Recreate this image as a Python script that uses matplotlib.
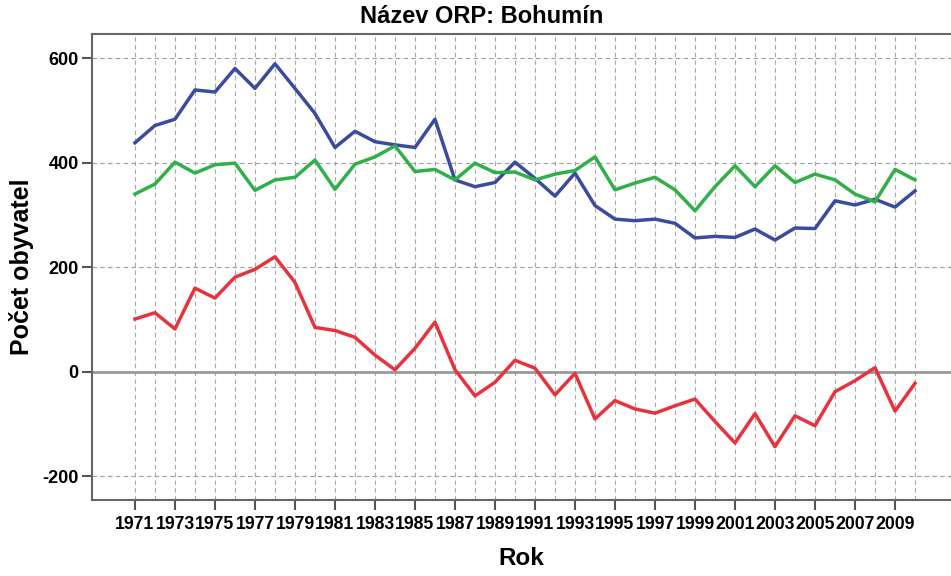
import numpy as np
import matplotlib
matplotlib.use('Agg')
import matplotlib.pyplot as plt

plt.rcParams['font.family'] = ['Liberation Sans', 'DejaVu Sans']
plt.rcParams['font.weight'] = 'bold'

# data
years = list(range(1971, 2011))

blue = [438, 471, 483, 539, 535, 580, 542, 589, 542, 494,
        429, 460, 440, 434, 429, 483, 367, 354, 362, 401,
        370, 336, 380, 318, 292, 289, 292, 284, 256, 259,
        257, 273, 252, 275, 274, 327, 319, 330, 315, 346]

green = [340, 359, 401, 380, 396, 399, 347, 367, 372, 405,
         349, 397, 411, 432, 383, 387, 367, 399, 381, 382,
         367, 378, 385, 411, 348, 361, 372, 348, 308, 354,
         394, 354, 394, 362, 378, 367, 340, 325, 387, 367]

red = [101, 113, 82, 160, 141, 181, 196, 220, 171, 85,
       79, 66, 32, 4, 45, 95, 4, -46, -20, 22,
       7, -44, -3, -90, -55, -71, -79, -65, -52, -95,
       -136, -80, -143, -84, -103, -38, -17, 8, -75, -22]

yticks = [-200, 0, 200, 400, 600]
xticks = list(range(1971, 2010, 2))


def main():
    fig = plt.figure(figsize=(9.51, 5.76), dpi=100)
    ax = fig.add_axes([0.0967, 0.132, 0.9033, 0.809])

    # grid
    for yr in years:
        ax.axvline(yr, color='#a8a8a8', lw=0.8, ls=(0, (4, 3)), zorder=1)
    for v in [-200, 200, 400, 600]:
        ax.axhline(v, color='#a0a0a0', lw=0.8, ls=(0, (4, 3)), zorder=1)
    ax.axhline(0, color='#999999', lw=2.0, zorder=2)

    ax.plot(years, blue, color='#3a4ca0', lw=2.5, zorder=3)
    ax.plot(years, green, color='#2fb049', lw=2.5, zorder=3)
    ax.plot(years, red, color='#e8323c', lw=2.5, zorder=3)

    ax.set_xlim(1968.85, 2011.8)
    ax.set_ylim(-245, 646)
    ax.set_xticks(xticks)
    ax.set_xticklabels([str(x) for x in xticks], fontsize=12.7, fontweight='bold')
    ax.set_yticks(yticks)
    ax.set_yticklabels([str(y) for y in yticks], fontsize=13, fontweight='bold')
    ax.tick_params(axis='x', length=7.5, width=1.5, color='#555555', pad=4)
    ax.tick_params(axis='y', length=7.5, width=1.5, color='#555555', pad=2)

    for s in ['left', 'bottom', 'top']:
        ax.spines[s].set_color('#666666')
        ax.spines[s].set_linewidth(1.5)
    ax.spines['right'].set_visible(False)

    ax.set_xlabel('Rok', fontsize=17.5, fontweight='bold', labelpad=10)
    ax.set_ylabel('Počet obyvatel', fontsize=18, fontweight='bold', labelpad=6)
    fig.suptitle('Název ORP: Bohumín', x=0.506, y=0.992, fontsize=17, fontweight='bold')

    fig.savefig('out.png', dpi=100)


if __name__ == '__main__':
    main()
